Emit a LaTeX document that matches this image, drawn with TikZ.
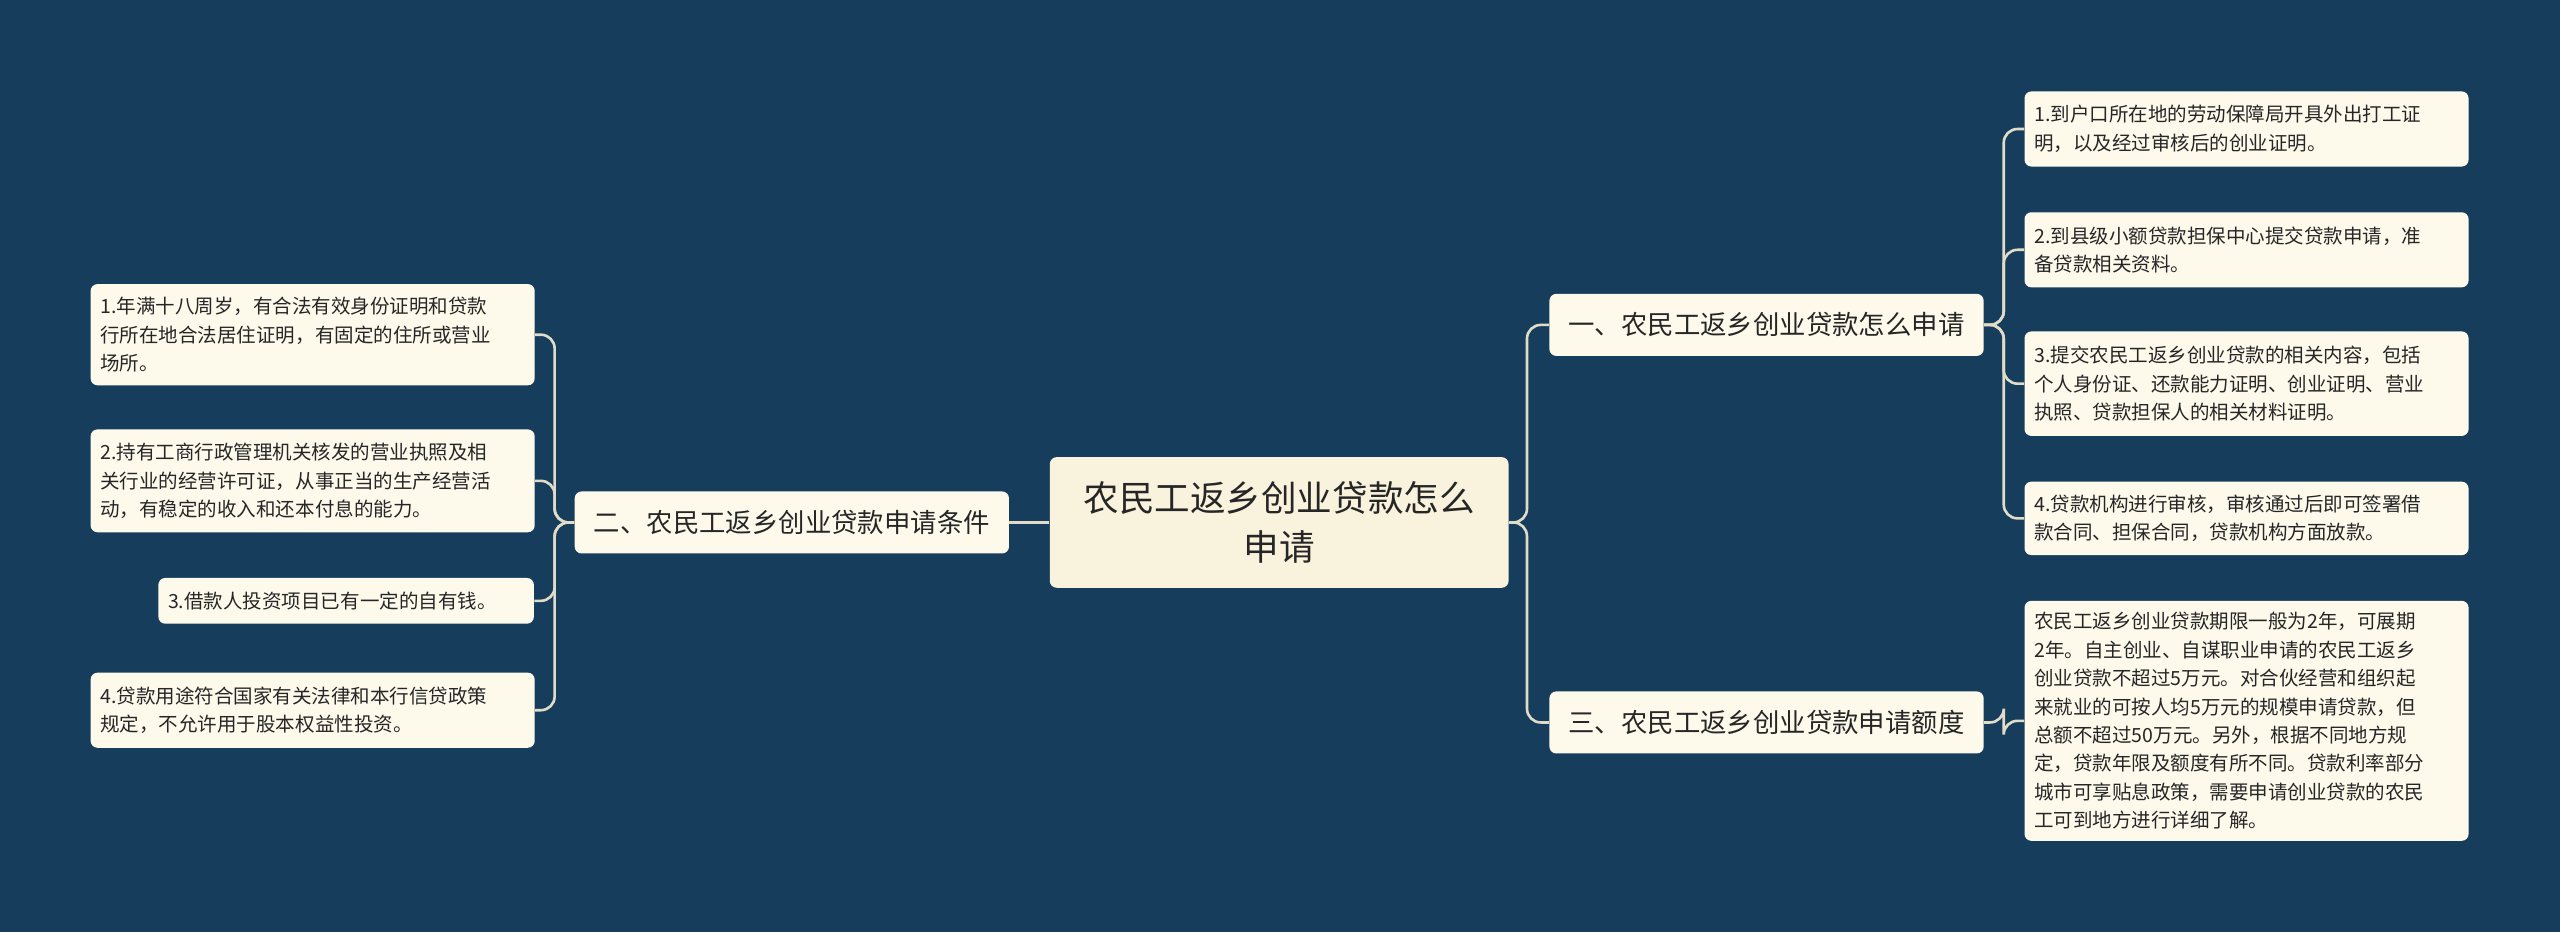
\documentclass[tikz,border=0pt]{standalone}
\usepackage{fontspec}
\setmainfont{Noto Sans CJK SC}
\usetikzlibrary{positioning}
\definecolor{bg}{RGB}{23,61,92}
\definecolor{cream}{RGB}{253,250,236}
\definecolor{core}{RGB}{249,243,222}
\definecolor{wire}{RGB}{225,220,200}
\tikzset{
  hub/.style={fill=core, rounded corners=3pt, minimum width=70.25mm, minimum height=20mm, align=center, font=\fontsize{15.5}{21}\selectfont, text=black!85},
  topic/.style={fill=cream, rounded corners=3pt, minimum width=66.5mm, minimum height=9.5mm, font=\fontsize{11.5}{14}\selectfont, text=black!85},
  leaf/.style={fill=cream, rounded corners=3pt, text width=65mm, inner xsep=1.5mm, align=left, font=\fontsize{8.5}{12.4}\selectfont, text=black!85},
  link/.style={draw=wire, line width=0.4mm, rounded corners=6pt}
}
\begin{document}
\begin{tikzpicture}[x=0.25mm, y=-0.25mm]
    \fill[bg] (0,0) rectangle (1568,571);
    \useasboundingbox (0,0) rectangle (1568,571);

    \node [hub] (root) at (783.5,320) {农民工返乡创业贷款怎么\\申请};
    \node [topic] (apply) at (1082,199) {一、农民工返乡创业贷款怎么申请};
    \node [topic] (limit) at (1082,442.5) {三、农民工返乡创业贷款申请额度};
    \node [topic] (cond) at (485,320) {二、农民工返乡创业贷款申请条件};

    % right leaves
    \node [leaf, minimum height=11.5mm] (a1) at (1376,79) {1.到户口所在地的劳动保障局开具外出打工证\\明，以及经过审核后的创业证明。};
    \node [leaf, minimum height=11.5mm] (a2) at (1376,153) {2.到县级小额贷款担保中心提交贷款申请，准\\备贷款相关资料。};
    \node [leaf, minimum height=16mm] (a3) at (1376,235) {3.提交农民工返乡创业贷款的相关内容，包括\\个人身份证、还款能力证明、创业证明、营业\\执照、贷款担保人的相关材料证明。};
    \node [leaf, minimum height=11.25mm] (a4) at (1376,317.5) {4.贷款机构进行审核，审核通过后即可签署借\\款合同、担保合同，贷款机构方面放款。};
    \node [leaf, minimum height=36.75mm] (b1) at (1376,441.5) {农民工返乡创业贷款期限一般为2年，可展期\\2年。自主创业、自谋职业申请的农民工返乡\\创业贷款不超过5万元。对合伙经营和组织起\\来就业的可按人均5万元的规模申请贷款，但\\总额不超过50万元。另外，根据不同地方规\\定，贷款年限及额度有所不同。贷款利率部分\\城市可享贴息政策，需要申请创业贷款的农民\\工可到地方进行详细了解。};

    % left leaves
    \node [leaf, minimum height=15.5mm] (c1) at (191.5,205) {1.年满十八周岁，有合法有效身份证明和贷款\\行所在地合法居住证明，有固定的住所或营业\\场所。};
    \node [leaf, minimum height=15.75mm] (c2) at (191.5,294.5) {2.持有工商行政管理机关核发的营业执照及相\\关行业的经营许可证，从事正当的生产经营活\\动，有稳定的收入和还本付息的能力。};
    \node [leaf, text width=54.5mm, minimum height=7mm] (c3) at (212,368) {3.借款人投资项目已有一定的自有钱。};
    \node [leaf, minimum height=11.5mm] (c4) at (191.5,435) {4.贷款用途符合国家有关法律和本行信贷政策\\规定，不允许用于股本权益性投资。};

    \foreach \t in {apply,limit}
      \draw [link] (root.east) -- ++(11,0) |- (\t.west);
    \draw [link] (root.west) -- (cond.east);
    \foreach \t in {a1,a2,a3,a4}
      \draw [link] (apply.east) -- ++(12,0) |- (\t.west);
    \draw [link] (limit.east) -- ++(12,0) |- (b1.west);
    \foreach \t in {c1,c2,c3,c4}
      \draw [link] (cond.west) -- ++(-12,0) |- (\t.east);
\end{tikzpicture}
\end{document}
